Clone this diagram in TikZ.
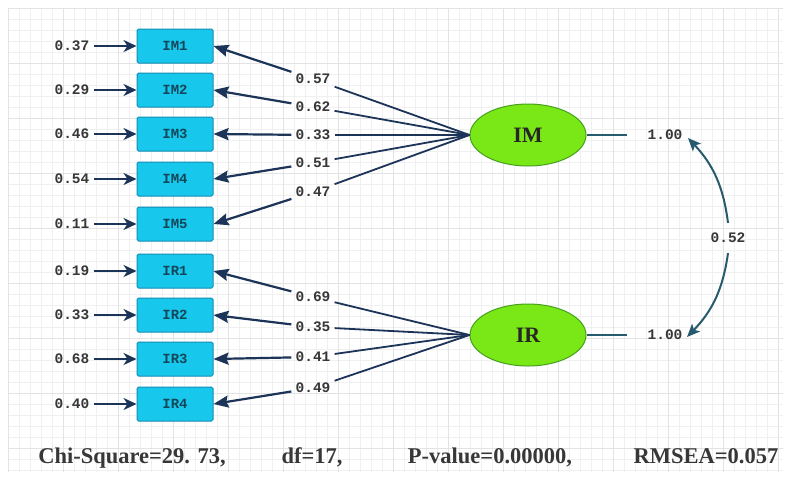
\documentclass[tikz,border=0pt]{standalone}
\usepackage{fontspec}
\setmainfont{Liberation Serif}
\newfontfamily\monof{Liberation Mono}
\usetikzlibrary{arrows.meta,shapes.geometric}
\definecolor{boxfill}{RGB}{24,200,236}
\definecolor{boxdraw}{RGB}{20,140,180}
\definecolor{boxtext}{RGB}{20,70,90}
\definecolor{ellfill}{RGB}{122,232,22}
\definecolor{elldraw}{RGB}{70,160,30}
\definecolor{navy}{RGB}{28,52,88}
\definecolor{teal2}{RGB}{40,90,110}
\definecolor{txt}{RGB}{55,55,55}
\tikzset{
  obs/.style={draw=boxdraw, line width=1pt, fill=boxfill, rounded corners=1.5pt, minimum width=76pt, minimum height=34pt, inner sep=0pt, font=\monof\bfseries\fontsize{14}{14}\selectfont, text=boxtext},
  lat/.style={ellipse, draw=elldraw, line width=1pt, fill=ellfill, minimum width=116pt, minimum height=62pt, inner sep=0pt, font=\bfseries\fontsize{22}{22}\selectfont, text=black!85},
  num/.style={font=\monof\bfseries\fontsize{14.5}{14.5}\selectfont, text=txt, inner sep=4pt},
  errarr/.style={draw=navy, line width=2.2pt, -{Stealth[length=13pt,width=12pt,inset=4pt]}},
  loadarr/.style={draw=navy, line width=2.2pt, -{Stealth[length=15pt,width=12pt,inset=2pt]}},
  loadline/.style={draw=navy, line width=1.8pt},
  covarr/.style={draw=teal2, line width=2pt, -{Stealth[length=13pt,width=11pt,inset=3pt]}},
  stat/.style={font=\bfseries\fontsize{22.5}{22.5}\selectfont, text=txt, inner sep=0pt, anchor=base},
  gridminor/.style={draw=black!6, line width=0.7pt},
  gridmajor/.style={draw=black!11, line width=0.7pt}
}
\begin{document}
\begin{tikzpicture}[x=1pt,y=-1pt]
\useasboundingbox (0,0) rectangle (791,479);
\fill[white] (0,0) rectangle (791,479);
\foreach \i in {0,...,70} \draw[gridminor] ({8+11*\i},8) -- ({8+11*\i},472);
\foreach \i in {0,...,42} \draw[gridminor] (8,{8+11*\i}) -- (783,{8+11*\i});
\foreach \i in {0,...,14} \draw[gridmajor] ({8+55*\i},8) -- ({8+55*\i},472);
\foreach \i in {0,...,8} \draw[gridmajor] (8,{8+55*\i}) -- (783,{8+55*\i});

% observed variables
\foreach \n/\t/\y in {IM1/IM1/46, IM2/IM2/90, IM3/IM3/134, IM4/IM4/179, IM5/IM5/224, IR1/IR1/271, IR2/IR2/315, IR3/IR3/359, IR4/IR4/404}
  \node[obs] (\n) at (175,\y) {\t};

% error terms
\foreach \n/\v/\y in {IM1/0.37/46, IM2/0.29/90, IM3/0.46/134, IM4/0.54/179, IM5/0.11/224, IR1/0.19/271, IR2/0.33/315, IR3/0.68/359, IR4/0.40/404}
  \node[num] (e\n) at (72,\y) {\v};
\foreach \n in {IM1,IM2,IM3,IM4,IM5,IR1,IR2,IR3,IR4}
  \draw[errarr] (e\n) -- (\n);

% latent variables
\node[lat] (IM) at (528,135) {IM};
\node[lat] (IR) at (528,335) {IR};

% loadings
\foreach \n/\v/\y in {IM1/0.57/79, IM2/0.62/107, IM3/0.33/135, IM4/0.51/163, IM5/0.47/192}{
  \node[num] (l\n) at (313,\y) {\v};
  \draw[loadline] (IM.west) -- (l\n);
  \draw[loadarr] (l\n) -- (\n.east);
}
\foreach \n/\v/\y in {IR1/0.69/297, IR2/0.35/327, IR3/0.41/357, IR4/0.49/388}{
  \node[num] (l\n) at (313,\y) {\v};
  \draw[loadline] (IR.west) -- (l\n);
  \draw[loadarr] (l\n) -- (\n.east);
}

% variances of latent variables
\coordinate (vIM) at (627,135);
\coordinate (vIR) at (627,335);
\draw[loadline, draw=teal2] (IM.east) -- (vIM);
\draw[loadline, draw=teal2] (IR.east) -- (vIR);
\node[num] (oIM) at (665,135) {1.00};
\node[num] (oIR) at (665,335) {1.00};

% covariance
\node[num] (cov) at (728,238) {0.52};
\coordinate (cIMe) at (688,138);
\coordinate (cIRe) at (687,337);
\draw[covarr] (cov.north) ++(0,-6) to[bend right=18] (cIMe);
\draw[covarr] (cov.south) ++(0,6) to[bend left=18] (cIRe);

% fit statistics
\node[stat] (chi) at (132,463) {Chi-Square=29. 73,};
\node[stat] (df) at (312,463) {df=17,};
\node[stat] (pv) at (490,463) {P-value=0.00000,};
\node[stat] (rm) at (706,463) {RMSEA=0.057};
\end{tikzpicture}
\end{document}
